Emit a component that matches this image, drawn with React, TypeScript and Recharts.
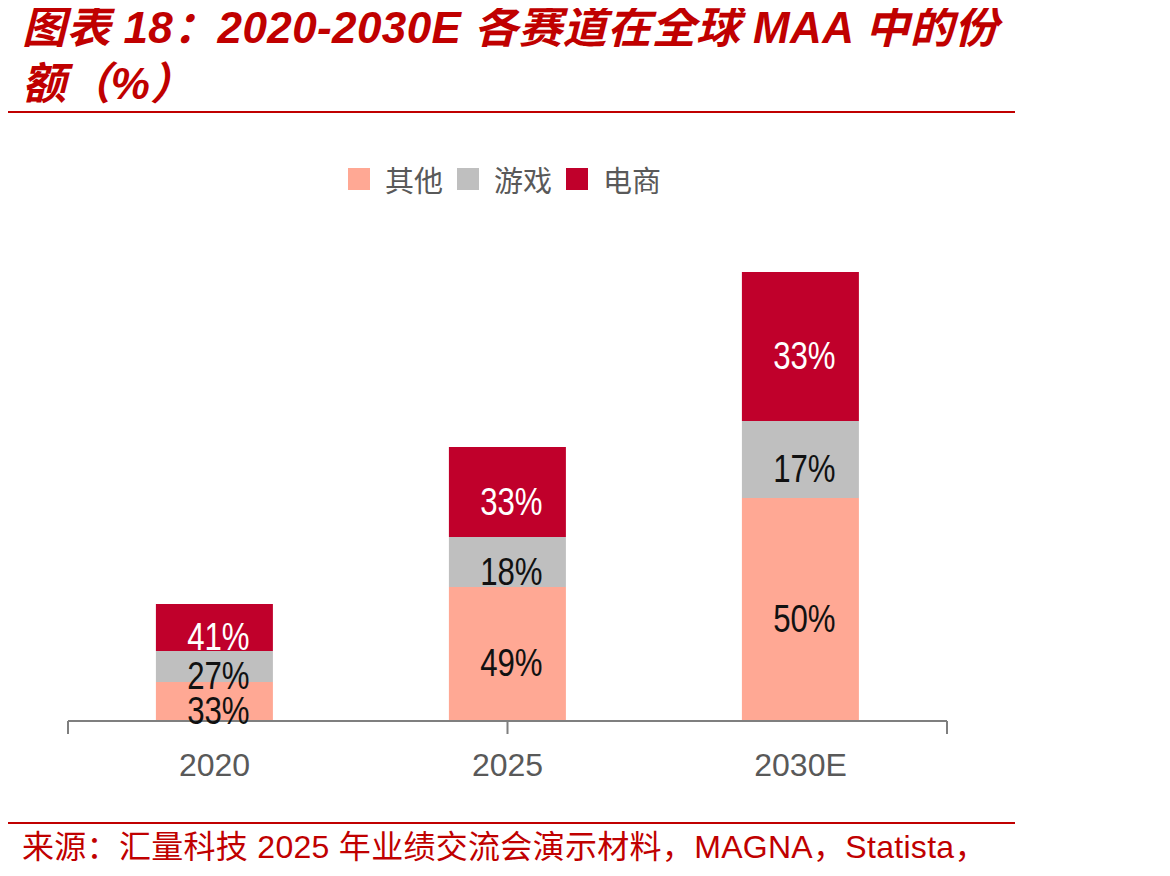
import { Bar, BarChart, LabelList, XAxis, YAxis } from "recharts";

const years = ["2020", "2025", "2030E"];
// segment sizes (relative MAA volume)
const other = [38, 133, 222];
const game = [31, 50, 77];
const ecom = [47, 90, 149];
// the labels printed on each segment
const otherPct = ["33%", "49%", "50%"];
const gamePct = ["27%", "18%", "17%"];
const ecomPct = ["41%", "33%", "33%"];

const series = [
  { key: "other", label: "otherPct", name: "其他", color: "#FFA894", text: "#111111" },
  { key: "game", label: "gamePct", name: "游戏", color: "#BFBFBF", text: "#111111" },
  { key: "ecom", label: "ecomPct", name: "电商", color: "#C0002B", text: "#FFFFFF" },
];

const data = years.map((year, i) => ({
  year,
  other: other[i],
  game: game[i],
  ecom: ecom[i],
  otherPct: otherPct[i],
  gamePct: gamePct[i],
  ecomPct: ecomPct[i],
}));

const RED = "#C00000";
const latin = '"Liberation Sans", Arial, "Noto Sans CJK SC", sans-serif';

// labels in the original use a condensed face; squeeze Liberation Sans instead
function segLabel(fill: string) {
  return (props: any) => {
    const { x, y, width, height, value } = props;
    const cx = Number(x) + Number(width) / 2 + 4;
    const cy = Number(y) + Number(height) / 2 + 9;
    return (
      <text
        transform={`translate(${cx},${cy}) scale(0.8,1)`}
        textAnchor="middle"
        dominantBaseline="central"
        fill={fill}
        fontSize={39}
        fontFamily={latin}
      >
        {value}
      </text>
    );
  };
}

export default function App() {
  return (
    <div
      style={{
        position: "relative",
        width: 1170,
        height: 876,
        margin: -8,
        overflow: "hidden",
        background: "#fff",
      }}
    >
      <div
        style={{
          position: "absolute",
          left: 22,
          top: 0,
          color: RED,
          fontFamily: latin,
          fontWeight: "bold",
          fontStyle: "italic",
          fontSize: 44,
          lineHeight: "56px",
          letterSpacing: 0.4,
          whiteSpace: "nowrap",
        }}
      >
        <div>图表 18：2020-2030E 各赛道在全球 MAA 中的份</div>
        <div>额（%）</div>
      </div>
      <div style={{ position: "absolute", left: 0, top: 111, width: 1015, height: 2, background: RED }} />

      <div
        style={{
          position: "absolute",
          left: 348,
          top: 158,
          display: "flex",
          alignItems: "center",
          fontFamily: '"Noto Sans CJK SC", sans-serif',
          fontSize: 29,
          color: "#595959",
        }}
      >
        {series.map((s) => (
          <div key={s.key} style={{ display: "flex", alignItems: "center", marginRight: 14 }}>
            <span style={{ width: 22, height: 22, background: s.color, display: "inline-block", marginRight: 15 }} />
            <span>{s.name}</span>
          </div>
        ))}
      </div>

      <div style={{ position: "absolute", left: 0, top: 0 }}>
        <BarChart
          width={1170}
          height={876}
          data={data}
          margin={{ top: 240, right: 223, bottom: 154, left: 68 }}
          barCategoryGap="30%"
        >
          <XAxis
            xAxisId="edge"
            type="number"
            domain={[0, 3]}
            ticks={[0, 1, 2, 3]}
            interval={0}
            allowDataOverflow
            height={1}
            tick={() => <g />}
            tickSize={13}
            stroke="#7F7F7F"
            strokeWidth={2}
          />
          <XAxis
            xAxisId="band"
            dataKey="year"
            height={1}
            axisLine={false}
            tickLine={false}
            tickSize={0}
            tickMargin={33}
            tick={{ fill: "#595959", fontSize: 32, fontFamily: latin }}
          />
          <YAxis hide domain={[0, 480]} />
          {series.map((s) => (
            <Bar
              key={s.key}
              xAxisId="band"
              dataKey={s.key}
              name={s.name}
              stackId="a"
              fill={s.color}
              isAnimationActive={false}
            >
              <LabelList dataKey={s.label} content={segLabel(s.text)} />
            </Bar>
          ))}
        </BarChart>
      </div>

      <div style={{ position: "absolute", left: 0, top: 822, width: 1015, height: 2, background: RED }} />
      <div
        style={{
          position: "absolute",
          left: 22,
          top: 826,
          color: RED,
          fontFamily: latin,
          fontSize: 32,
          lineHeight: "42px",
          letterSpacing: 0.3,
          whiteSpace: "nowrap",
        }}
      >
        <div>来源：汇量科技 2025 年业绩交流会演示材料，MAGNA，Statista，</div>
        <div>Newzoo，华泰证券研究所</div>
      </div>
    </div>
  );
}
